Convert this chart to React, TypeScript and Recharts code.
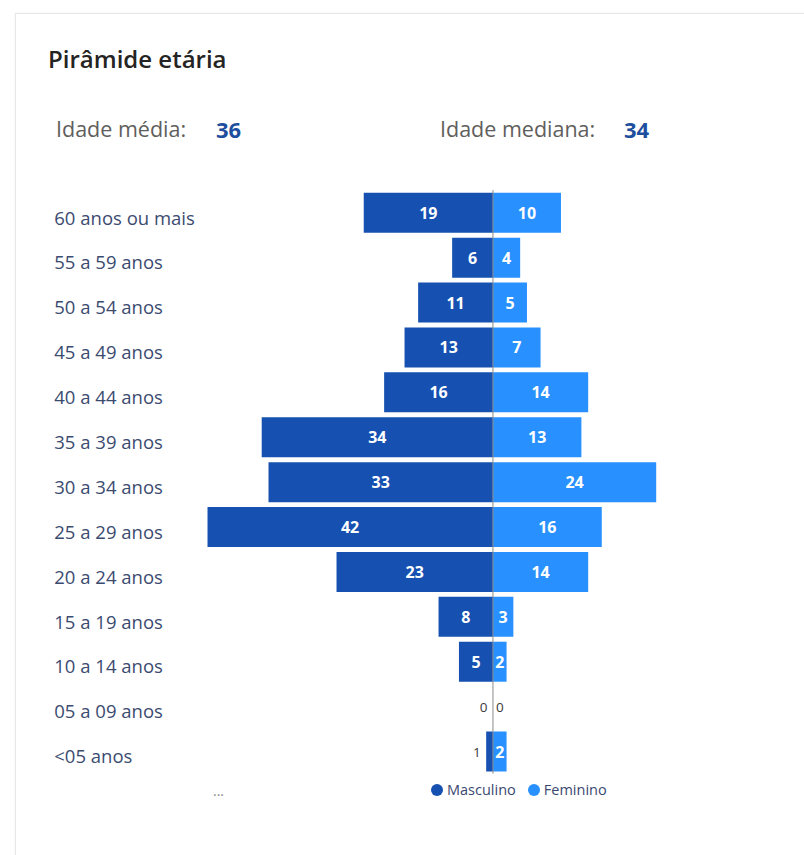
import React from 'react';
import { BarChart, Bar, XAxis, YAxis, ReferenceLine, LabelList } from 'recharts';

const ageGroups = [
  '60 anos ou mais', '55 a 59 anos', '50 a 54 anos', '45 a 49 anos', '40 a 44 anos',
  '35 a 39 anos', '30 a 34 anos', '25 a 29 anos', '20 a 24 anos', '15 a 19 anos',
  '10 a 14 anos', '05 a 09 anos', '<05 anos',
];
const masculino = [19, 6, 11, 13, 16, 34, 33, 42, 23, 8, 5, 0, 1];
const feminino = [10, 4, 5, 7, 14, 13, 24, 16, 14, 3, 2, 0, 2];
const seriesNames = ['Masculino', 'Feminino'];
const seriesColors = ['#1650B1', '#2891FF'];
const statLabels = ['Idade média:', 'Idade mediana:'];
const statValues = [36, 34];
const title = 'Pirâmide etária';
const xDomain: [number, number] = [-42, 30];

const FONT = "'Segoe UI', 'Open Sans', sans-serif";
const Y_AXIS_WIDTH = 153;

const data = ageGroups.map((label, i) => ({ label, masc: -masculino[i], fem: feminino[i] }));

// keep zero-valued bars in the layout (sub-pixel) so their "0" labels are still drawn
const keepZero = (value: any) => (Number(value) === 0 ? 0.01 : 0);

const makeLabel = (side: 'left' | 'right') => (props: any) => {
  const vb = props.viewBox && props.viewBox.height != null ? props.viewBox : props;
  const x = Number(vb.x), y = Number(vb.y), height = Number(vb.height);
  let width = Number(vb.width) || 0;
  const raw = Array.isArray(props.value) ? props.value[1] - props.value[0] : props.value;
  const v = Math.abs(Number(raw)) || 0;
  if (v === 0) width = 0;
  const x0 = Math.min(x, x + width);
  const w = Math.abs(width);
  const cy = y + height / 2;
  if (w >= 12) {
    return (
      <text x={x0 + w / 2} y={cy} textAnchor="middle" dominantBaseline="central" fill="#ffffff"
        fontWeight={700} fontSize={16} fontFamily={FONT}>{v}</text>
    );
  }
  const tx = side === 'left' ? x0 - 5.5 : x0 + w + 3;
  return (
    <text x={tx} y={cy} textAnchor={side === 'left' ? 'end' : 'start'} dominantBaseline="central"
      fill="#3a3a3a" fontSize={13.5} fontWeight={500} fontFamily={FONT}>{v}</text>
  );
};

const AgeTick = (props: any) => {
  const { x, y, payload } = props;
  return (
    <text x={x - Y_AXIS_WIDTH} y={y} dy={12} fill="#3b4b70" fontSize={18.5} fontFamily={FONT}>
      {payload.value}
    </text>
  );
};

export default function App() {
  return (
    <div style={{ position: 'fixed', inset: 0, background: '#fff', fontFamily: FONT, overflow: 'hidden' }}>
      <div style={{
        position: 'absolute', left: 15, top: 13, right: -10, bottom: -10,
        border: '1px solid #e6e6e6', boxShadow: '0 0 3px rgba(0,0,0,0.05)', background: '#fff',
      }} />
      <svg width={804} height={855} style={{ position: 'absolute', left: 0, top: 0 }}>
        <text x={48} y={68} fontSize={24} fontWeight={600} fill="#252423" fontFamily={FONT}>{title}</text>
        <text x={56} y={137} fontSize={21.5} fill="#605e5c" fontFamily={FONT}>{statLabels[0]}</text>
        <text x={216} y={138} fontSize={22} fontWeight={700} fill="#1d4f9e" fontFamily={FONT}>{statValues[0]}</text>
        <text x={440} y={137} fontSize={21.5} fill="#605e5c" fontFamily={FONT}>{statLabels[1]}</text>
        <text x={624} y={138} fontSize={22} fontWeight={700} fill="#1d4f9e" fontFamily={FONT}>{statValues[1]}</text>
        <text x={213} y={796} fontSize={14} fill="#8a8a8a" fontFamily={FONT}>...</text>
      </svg>
      <div style={{ position: 'absolute', left: 0, top: 0 }}>
        <BarChart
          width={804}
          height={800}
          data={data}
          layout="vertical"
          stackOffset="sign"
          barCategoryGap="6%"
          margin={{ top: 190.1, right: 107, bottom: 26.3, left: 54.3 }}
        >
          <XAxis type="number" domain={xDomain} hide allowDataOverflow />
          <YAxis
            type="category"
            dataKey="label"
            width={Y_AXIS_WIDTH}
            axisLine={false}
            tickLine={false}
            tickSize={0}
            tickMargin={0}
            interval={0}
            tick={<AgeTick />}
          />
          <Bar dataKey="masc" name={seriesNames[0]} stackId="a" fill={seriesColors[0]}
            minPointSize={keepZero} isAnimationActive={false}>
            <LabelList dataKey="masc" content={makeLabel('left')} />
          </Bar>
          <Bar dataKey="fem" name={seriesNames[1]} stackId="a" fill={seriesColors[1]}
            minPointSize={keepZero} isAnimationActive={false}>
            <LabelList dataKey="fem" content={makeLabel('right')} />
          </Bar>
          <ReferenceLine x={0} stroke="#8c8c8c" strokeWidth={1} ifOverflow="extendDomain" />
        </BarChart>
      </div>
      <div style={{
        position: 'absolute', left: 431, top: 780, height: 20, display: 'flex', alignItems: 'center',
        fontSize: 14.5, color: '#3a4870', fontFamily: FONT,
      }}>
        {seriesNames.map((n, i) => (
          <div key={n} style={{ display: 'flex', alignItems: 'center', marginRight: 12 }}>
            <span style={{ width: 12, height: 12, borderRadius: 6, background: seriesColors[i], marginRight: 4, display: 'inline-block' }} />
            <span style={{ lineHeight: '20px' }}>{n}</span>
          </div>
        ))}
      </div>
    </div>
  );
}
